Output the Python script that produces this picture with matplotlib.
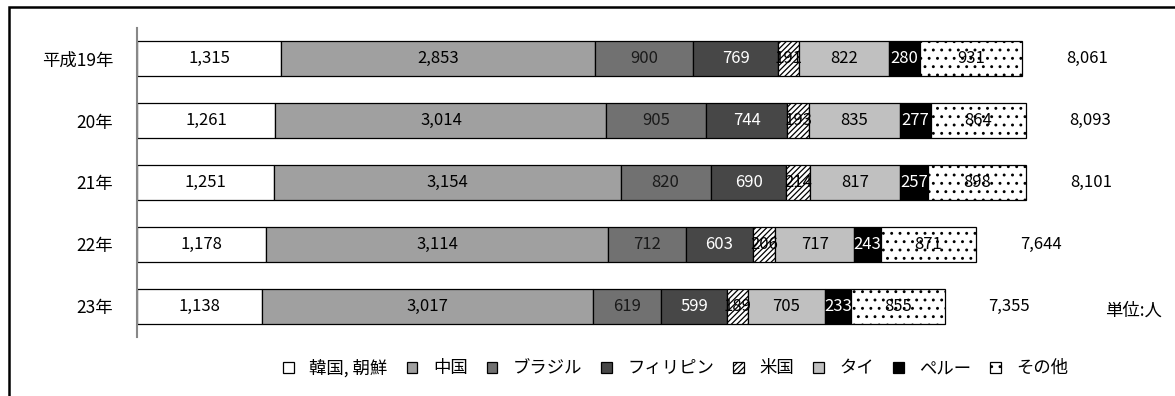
import numpy as np
import matplotlib.pyplot as plt
from matplotlib.patches import Patch, Rectangle

plt.rcParams['font.family'] = ['Noto Sans CJK JP', 'DejaVu Sans']
plt.rcParams['hatch.linewidth'] = 0.9

# 国籍別 外国人数の推移
anos = ['平成19年', '20年', '21年', '22年', '23年']
paises = ['韓国, 朝鮮', '中国', 'ブラジル', 'フィリピン', '米国', 'タイ', 'ペルー', 'その他']
kankoku = [1315, 1261, 1251, 1178, 1138]
chugoku = [2853, 3014, 3154, 3114, 3017]
brasil = [900, 905, 820, 712, 619]
filipinas = [769, 744, 690, 603, 599]
eua = [191, 193, 214, 206, 189]
tai = [822, 835, 817, 717, 705]
peru = [280, 277, 257, 243, 233]
outros = [931, 864, 898, 871, 855]
totais = [8061, 8093, 8101, 7644, 7355]

series = [kankoku, chugoku, brasil, filipinas, eua, tai, peru, outros]
cores = ['white', '#a0a0a0', '#717171', '#474747', 'white', '#c0c0c0', 'black', 'white']
hachuras = [None, None, None, None, '//////', None, None, '..']
cor_texto = ['black', 'black', '#1a1a1a', 'white', 'black', 'black', 'white', 'black']

fig = plt.figure(figsize=(11.75, 3.96), dpi=100)
ax = fig.add_axes([137/1175, 59/396, 1038/1175, 309/396])

y = np.arange(len(anos))
esq = np.zeros(len(anos))
for vals, cor, hach, ct in zip(series, cores, hachuras, cor_texto):
    vals = np.array(vals)
    ax.barh(y, vals, left=esq, height=0.565, color=cor, hatch=hach,
            edgecolor='black', linewidth=0.9)
    for yi, l, v in zip(y, esq, vals):
        ax.text(l + v/2, yi, f'{v:,}', ha='center', va='center', fontsize=12, color=ct)
    esq += vals

for yi, t in zip(y, totais):
    ax.text(t + 400, yi, f'{t:,}', ha='left', va='center', fontsize=12)

ax.set_xlim(0, 1038/0.1098)
ax.set_ylim(4.5, -0.5)
ax.set_yticks(y)
ax.set_yticklabels(anos, fontsize=12.5)
ax.tick_params(axis='y', length=0, pad=17)
ax.set_xticks([])
for s in ['top', 'right', 'bottom']:
    ax.spines[s].set_visible(False)
ax.spines['left'].set_color('#888888')
ax.spines['left'].set_linewidth(1.5)

fig.text(1105/1175, 1 - 311/396, '単位:人', fontsize=12.5, va='center', ha='left')

handles = [Patch(facecolor=c, edgecolor='black', hatch=h, linewidth=0.9)
           for c, h in zip(cores, hachuras)]
fig.legend(handles, paises, loc='center', bbox_to_anchor=(676/1175, 1 - 368/396),
           ncol=8, frameon=False, fontsize=12.5, handlelength=0.6, handleheight=0.6,
           handletextpad=0.9, columnspacing=1.1)

# moldura externa
fig.add_artist(Rectangle((9/1175, -0.1), 1.2, 1 - 7/396 + 0.1, transform=fig.transFigure,
                         fill=False, edgecolor='black', linewidth=1.8))

fig.savefig('out.png', dpi=100)
plt.close()
